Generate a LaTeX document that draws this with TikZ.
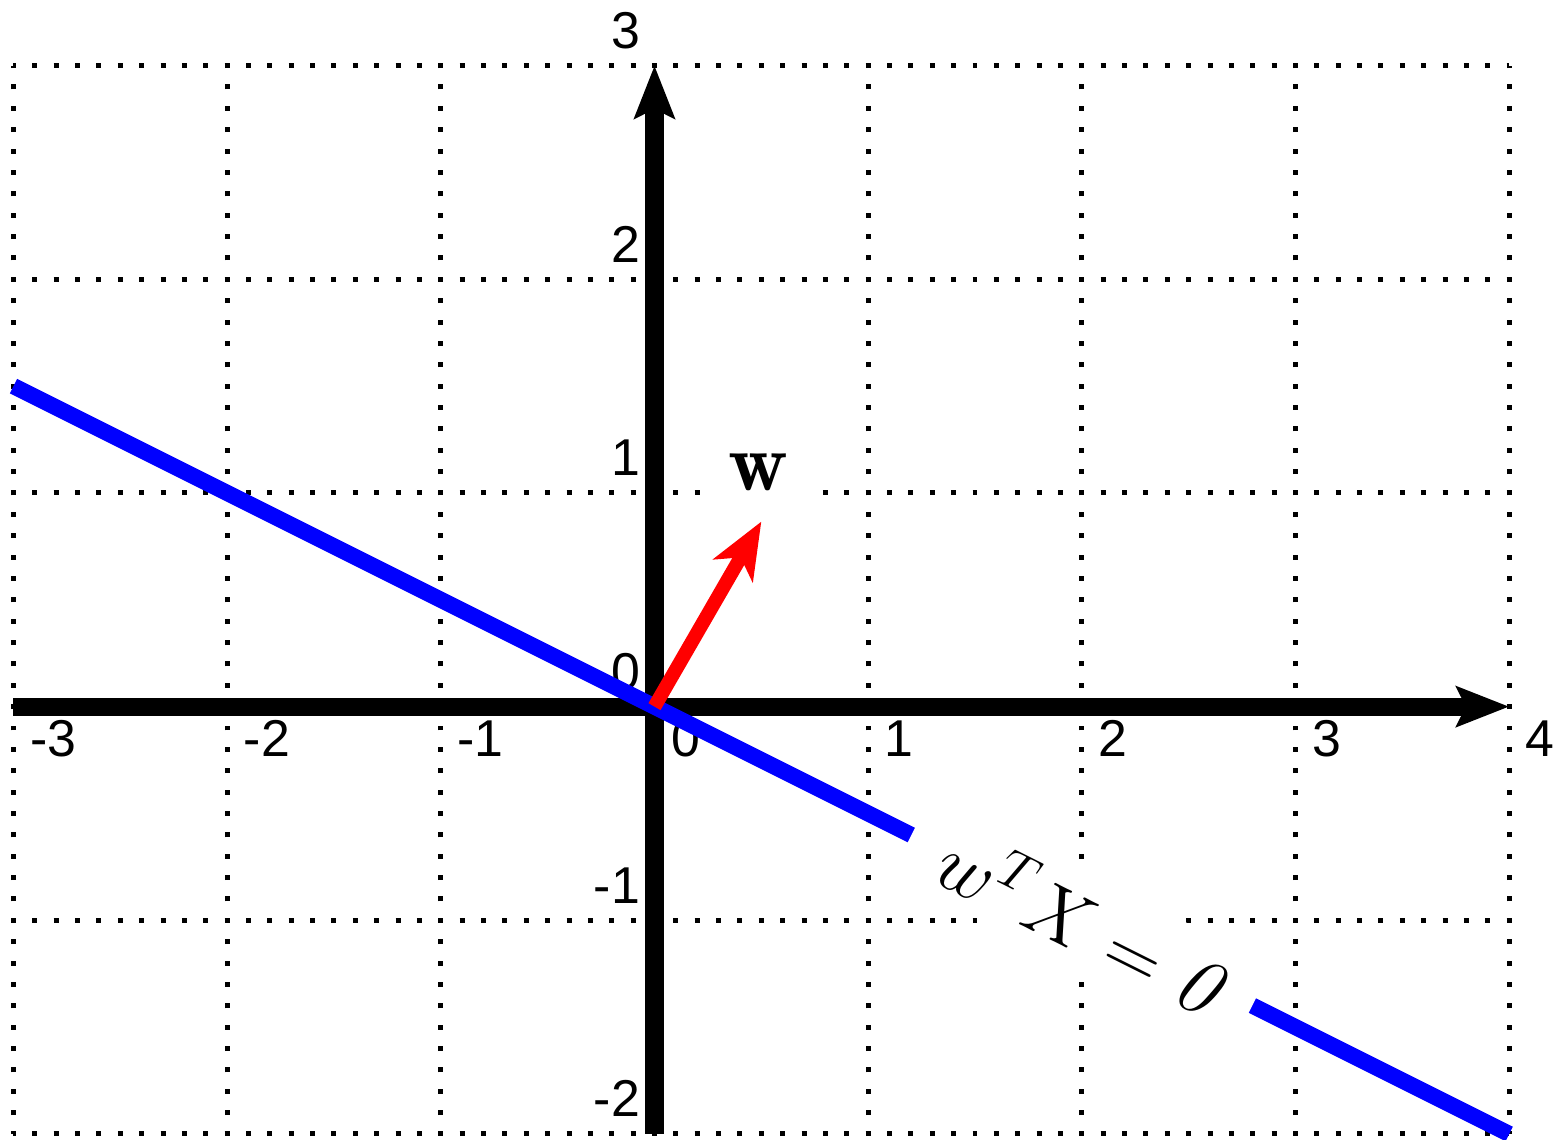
\documentclass[tikz,border=0pt]{standalone}
\usepackage{amsmath}
\usepackage{fontspec}
\newfontfamily\ticksf{Liberation Sans}
\usetikzlibrary{arrows.meta}

\begin{document}
\begin{tikzpicture}[x=2cm,y=2cm,
          gridline/.style={line width=1.33pt,dash pattern=on 1.33pt off 4.3605pt,
                           dash phase=0.665pt},
          axis/.style={line width=4.8pt,-{Stealth[length=14pt,width=10.6pt,inset=2.5pt]}},
          ticklbl/.style={inner sep=0pt,font=\ticksf\fontsize{13.8}{16}\selectfont},
          sepline/.style={blue,line width=4.3pt},
          wvec/.style={red,line width=3.7pt,-{Stealth[length=15pt,width=12pt,inset=4pt]}},
          eqlbl/.style={fill=white,inner xsep=10pt,inner ysep=3pt,rotate=-26.57,
                        font=\fontsize{21.5}{26}\selectfont}]
        \useasboundingbox (-3.063,-2.024) rectangle (4.219,3.307);
        % grid
        \foreach \x in {-3,...,4}
          \draw[gridline] (\x,-2) -- (\x,3);
        \foreach \y in {-2,...,3}
          \draw[gridline] (-3,\y) -- (4,\y);
        % tick labels
        \foreach \x [count=\i] in {-3,...,4}
          \node[ticklbl,anchor=base west] (xl\i) at (\x+0.075,-0.234) {\x};
        \foreach \y [count=\i] in {-2,...,3}
          \node[ticklbl,anchor=base east] (yl\i) at (-0.065,\y+0.08) {\y};
        % axes
        \coordinate (xmin) at (-3,0);
        \coordinate (xmax) at (4,0);
        \coordinate (ymin) at (0,-2);
        \coordinate (ymax) at (0,3);
        \draw[axis] (xmin) -- (xmax);
        \draw[axis] (ymin) -- (ymax);
        % separating line and normal vector
        \coordinate (sepA) at (-3,1.5);
        \coordinate (sepB) at (4,-2);
        \coordinate (O) at (0,0);
        \coordinate (wend) at (0.5,0.866);
        \draw[sepline] (sepA) -- (sepB);
        \draw[wvec] (O) -- (wend);
        \node[fill=white,inner sep=5pt,font=\fontsize{22}{26}\selectfont]
          (wlbl) at (0.485,1.097) {$\mathbf{w}$};
        \node[eqlbl] (eq) at (2,-1) {$w^{T}X=\mathit{0}$};
      \end{tikzpicture}
\end{document}
